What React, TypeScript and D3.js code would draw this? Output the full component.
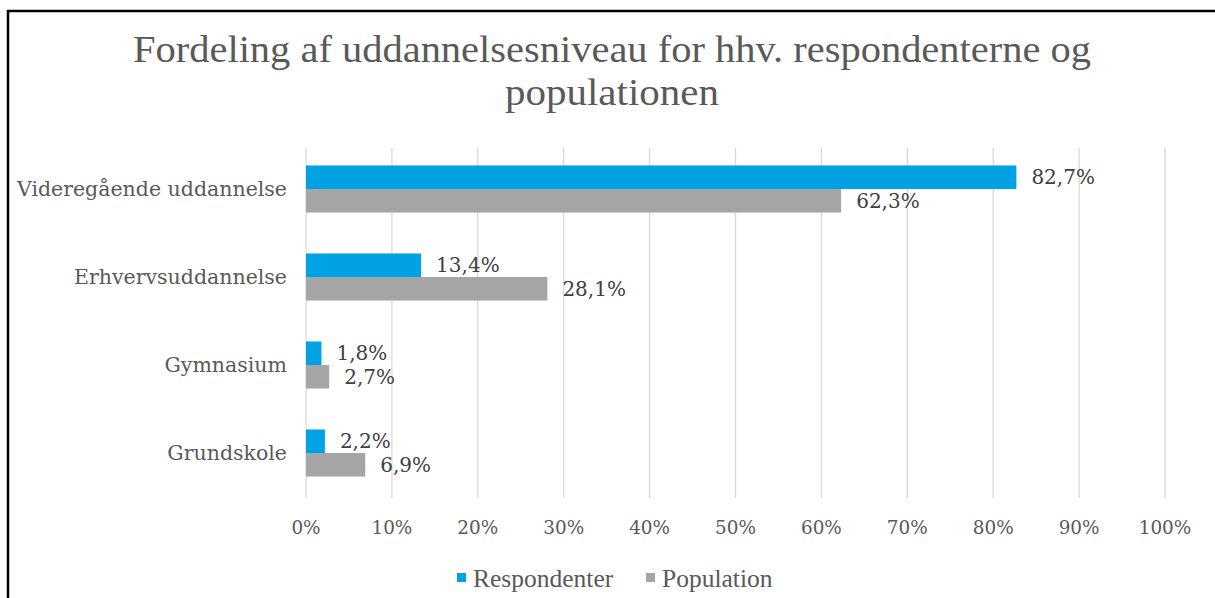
import * as d3 from "d3";

const categories = ["Videregående uddannelse", "Erhvervsuddannelse", "Gymnasium", "Grundskole"];
const respondenter = [82.7, 13.4, 1.8, 2.2];
const population = [62.3, 28.1, 2.7, 6.9];
const seriesNames = ["Respondenter", "Population"];
const xTicks = [0, 10, 20, 30, 40, 50, 60, 70, 80, 90, 100];
const titleLines = ["Fordeling af uddannelsesniveau for hhv. respondenterne og", "populationen"];

const W = 1215;
const H = 598;
const colors = ["#00a2e3", "#a5a5a5"];
const serif = "'DejaVu Serif', Georgia, serif";
const condensed = "'Liberation Serif', 'Times New Roman', serif";

const fmt = (v: number) => v.toFixed(1).replace(".", ",") + "%";

export default function App() {
  const x = d3.scaleLinear().domain([0, 100]).range([306, 1165]);
  const y = d3.scaleBand<string>().domain(categories).range([145, 497]).paddingInner(0.465).paddingOuter(0.2325);
  const inner = d3.scaleBand<number>().domain([0, 1]).range([0, y.bandwidth()]);
  const series = [respondenter, population];
  const titleWidths = [958, 214];

  return (
    <svg width={W} height={H} style={{ position: "absolute", left: 0, top: 0, background: "#fff" }}>
      <rect x={0} y={0} width={W} height={H} fill="#fff" />
      {/* frame */}
      <path d={`M8,${H} V11 H${W}`} fill="none" stroke="#000" strokeWidth={2.5} />

      {/* title */}
      {titleLines.map((t, i) => (
        <text
          key={i}
          x={612}
          y={62 + i * 43}
          textAnchor="middle"
          fontFamily={condensed}
          fontSize={37}
          textLength={titleWidths[i]}
          lengthAdjust="spacingAndGlyphs"
          fill="#595959"
        >
          {t}
        </text>
      ))}

      {/* gridlines */}
      {xTicks.map((t) => (
        <line key={t} x1={x(t)} x2={x(t)} y1={148} y2={498} stroke="#d9d9d9" strokeWidth={1.3} />
      ))}

      {/* bars */}
      {categories.map((c, ci) =>
        series.map((s, si) => (
          <rect
            key={c + si}
            x={x(0)}
            y={(y(c) as number) + (inner(si) as number)}
            width={x(s[ci]) - x(0)}
            height={inner.bandwidth()}
            fill={colors[si]}
          />
        ))
      )}

      {/* data labels */}
      {categories.map((c, ci) =>
        series.map((s, si) => (
          <text
            key={"l" + c + si}
            x={x(s[ci]) + 15}
            y={(y(c) as number) + (inner(si) as number) + inner.bandwidth() / 2}
            dy="0.36em"
            fontFamily={serif}
            fontSize={20}
            fill="#404040"
          >
            {fmt(s[ci])}
          </text>
        ))
      )}

      {/* category labels */}
      {categories.map((c) => (
        <text
          key={"c" + c}
          x={287}
          y={(y(c) as number) + y.bandwidth() / 2}
          dy="0.36em"
          textAnchor="end"
          fontFamily={serif}
          fontSize={20.5}
          fill="#595959"
        >
          {c}
        </text>
      ))}

      {/* x tick labels */}
      {xTicks.map((t) => (
        <text key={"t" + t} x={x(t)} y={527} dy="0.36em" textAnchor="middle" fontFamily={serif} fontSize={18.4} fill="#595959">
          {t + "%"}
        </text>
      ))}

      {/* legend */}
      {seriesNames.map((n, i) => {
        const lx = [457, 646][i];
        return (
          <g key={n}>
            <rect x={lx} y={573} width={9} height={9} fill={colors[i]} />
            <text x={lx + 16} y={578} dy="0.36em" fontFamily={condensed} fontSize={25.5} fill="#595959">
              {n}
            </text>
          </g>
        );
      })}
    </svg>
  );
}
